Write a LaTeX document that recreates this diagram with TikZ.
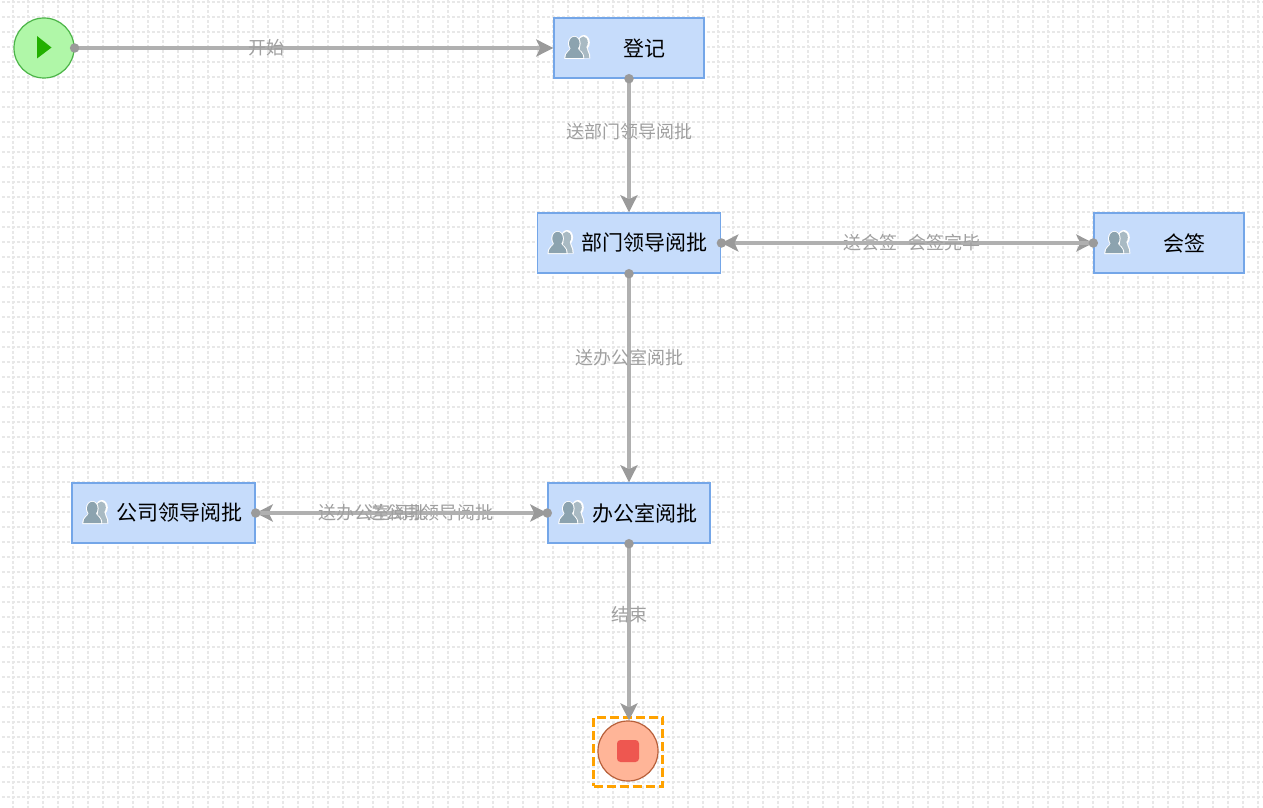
\documentclass[tikz,border=0pt]{standalone}
\usepackage{fontspec}
\setmainfont{Noto Sans CJK SC}
\usetikzlibrary{arrows.meta}
\definecolor{boxfill}{HTML}{C6DCFB}
\definecolor{boxline}{HTML}{74A6E8}
\definecolor{gridc}{HTML}{E8E8E8}
\definecolor{linec}{HTML}{B0B0B0}
\definecolor{headc}{HTML}{9A9A9A}
\definecolor{labc}{HTML}{A0A0A0}
\definecolor{iconc}{HTML}{8CA3AF}
\definecolor{startfill}{HTML}{B0F7A8}
\definecolor{startline}{HTML}{4CB548}
\definecolor{startmark}{HTML}{22B000}
\definecolor{stopfill}{HTML}{FFB598}
\definecolor{stopline}{HTML}{B8603A}
\definecolor{stopmark}{HTML}{EE5750}
\definecolor{selc}{HTML}{FFA200}
\tikzset{
  taskbox/.style={draw=boxline,fill=boxfill,line width=1.4pt,minimum height=60pt,inner sep=0pt,font=\fontsize{21pt}{23pt}\selectfont,text=black},
  flow/.style={draw=linec,line width=3.4pt,-{Stealth[length=17pt,width=17pt,inset=4pt,color=headc]}},
  lab/.style={font=\fontsize{18pt}{20pt}\selectfont,text=labc,inner sep=0pt},
  port/.style={circle,fill=headc,minimum size=9.5pt,inner sep=0pt},
  person/.pic={
    \fill[white] (6.5,-5.5) ellipse (6 and 7.5) (-1,10.5) -- (2,-1) -- (10,-1) .. controls (10,3) and (13.5,4) .. (13,10.5) -- cycle;
    \fill[iconc!75!white] (6,-5.5) ellipse (4.5 and 6);
    \fill[iconc!75!white] (0,10) -- (3,-1) -- (9,-1) .. controls (9,3) and (12,4) .. (12,10) -- cycle;
    \fill[white] (-3,-4.5) ellipse (6.3 and 7.5) (-13,11) .. controls (-13,3) and (-8,3) .. (-7,0) -- (1,0) .. controls (2,3) and (7,3) .. (7,11) -- cycle;
    \fill[iconc] (-3,-4.5) ellipse (5.3 and 6.7);
    \fill[iconc] (-12,10) .. controls (-12,4) and (-7,3.5) .. (-6,-1) -- (0,-1) .. controls (1,3.5) and (6,4) .. (6,10) -- cycle;
  }
}
\newcommand{\tasktext}[1]{\hspace*{31pt}#1}
\begin{document}
\begin{tikzpicture}[x=1pt,y=-1pt]
\useasboundingbox (0,0) rectangle (1263,808);
\fill[white] (0,0) rectangle (1263,808);
\begin{scope}[draw=gridc,line width=1.2pt,dash pattern=on 3pt off 2pt]
\foreach \gx in {13,28,...,1258} \draw (\gx,-14.5) -- (\gx,808);
\foreach \gy in {2,17,...,797} \draw (-3.5,\gy) -- (1263,\gy);
\end{scope}

\node[circle,draw=startline,fill=startfill,minimum size=60pt,inner sep=0pt,line width=1.2pt] (start) at (44,48) {};
\fill[startmark] (37,36) -- (51.5,47.5) -- (37,58.5) -- cycle;

\node[taskbox,minimum width=150pt] (dj) at (629,48) {\tasktext{登记}};
\node[taskbox,minimum width=183.4pt] (bm) at (629,243) {\tasktext{部门领导阅批}};
\node[taskbox,minimum width=150pt] (hq) at (1169,243) {\tasktext{会签}};
\node[taskbox,minimum width=162pt] (bgs) at (629,513) {\tasktext{办公室阅批}};
\node[taskbox,minimum width=183pt] (gs) at (163.5,513) {\tasktext{公司领导阅批}};

\pic at ([xshift=24pt]dj.west) {person};
\pic at ([xshift=24pt]bm.west) {person};
\pic at ([xshift=24pt]hq.west) {person};
\pic at ([xshift=24pt]bgs.west) {person};
\pic at ([xshift=24pt]gs.west) {person};

\node[circle,draw=stopline,fill=stopfill,minimum size=60pt,inner sep=0pt,line width=1.2pt] (stop) at (628,751) {};
\node[draw=selc,line width=3pt,dash pattern=on 9pt off 4pt,minimum width=69pt,minimum height=69pt,inner sep=0pt] (stopsel) at (628,751.5) {};
\node[fill=stopmark,rounded corners=3.5pt,minimum size=22pt,inner sep=0pt] (stopsq) at (628,751) {};

\draw[flow] (start.east) -- node[lab,pos=.4] {开始} (dj.west);
\draw[flow] (dj.south) -- node[lab,pos=.4] {送部门领导阅批} (bm.north);
\draw[flow] (bm.south) -- node[lab,pos=.4] {送办公室阅批} (bgs.north);
\draw[flow] (bm.east) -- node[lab,pos=.4] {送会签} (hq.west);
\draw[flow] (hq.west) -- node[lab,pos=.4] {会签完毕} (bm.east);
\draw[flow] (bgs.west) -- node[lab,pos=.4] {送公司领导阅批} (gs.east);
\draw[flow] (gs.east) -- node[lab,pos=.4] {送办公室阅批} (bgs.west);
\draw[flow] (bgs.south) -- node[lab,pos=.4] {结束} (bgs.south |- stop.north);

\node[port] (p1) at (start.east) {};
\node[port] (p2) at (dj.south) {};
\node[port] (p3) at (bm.south) {};
\node[port] (p4) at (bm.east) {};
\node[port] (p5) at (hq.west) {};
\node[port] (p6) at (bgs.west) {};
\node[port] (p7) at (bgs.south) {};
\node[port] (p8) at (gs.east) {};
\end{tikzpicture}
\end{document}
